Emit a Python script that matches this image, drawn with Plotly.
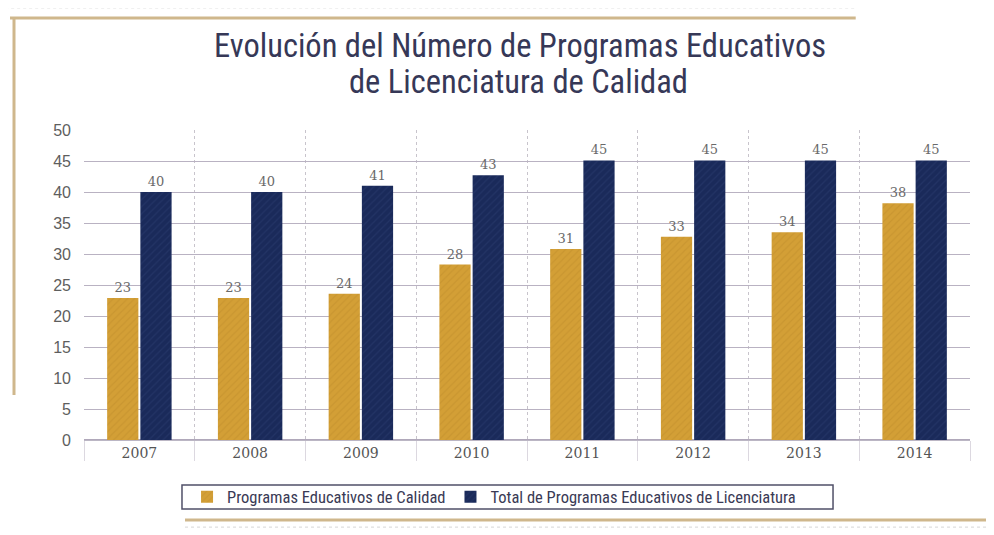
import plotly.graph_objects as go

years = ["2007", "2008", "2009", "2010", "2011", "2012", "2013", "2014"]
calidad = [22.9, 22.9, 23.6, 28.3, 30.8, 32.8, 33.5, 38.2]
calidad_labels = ["23", "23", "24", "28", "31", "33", "34", "38"]
total = [40, 40, 41, 42.7, 45.1, 45.1, 45.1, 45.1]
total_labels = ["40", "40", "41", "43", "45", "45", "45", "45"]

gold = "#d39f36"
navy = "#1a2a5a"
narrow = "Roboto Condensed, Liberation Sans Narrow, Lato"
label_font = dict(family="DejaVu Serif", size=13, color="#6a6a6a")

fig = go.Figure()
fig.add_trace(go.Bar(
    x=years, y=calidad, name="Programas Educativos de Calidad",
    text=calidad_labels, textposition="outside", textfont=label_font,
    cliponaxis=False,
    marker=dict(color=gold, line=dict(width=0),
                pattern=dict(shape="/", fgcolor="#c08e2c", size=5, solidity=0.25)),
))
fig.add_trace(go.Bar(
    x=years, y=total, name="Total de Programas Educativos de Licenciatura",
    text=total_labels, textposition="outside", textfont=label_font,
    cliponaxis=False,
    marker=dict(color=navy, line=dict(width=0),
                pattern=dict(shape="/", fgcolor="#2c3d70", size=5, solidity=0.25)),
))

frame = "#cfb78c"
shapes = [
    # outer dotted frame
    dict(type="line", xref="paper", yref="paper", x0=-0.089, x1=0.871, y0=1.394, y1=1.394,
         line=dict(color="#d6d6d6", width=1, dash="dot")),
    dict(type="line", xref="paper", yref="paper", x0=-0.089, x1=-0.089, y0=1.394, y1=0.13,
         line=dict(color="#d6d6d6", width=1, dash="dot")),
    # gold frame
    dict(type="line", xref="paper", yref="paper", x0=-0.0835, x1=0.871, y0=1.361, y1=1.361,
         line=dict(color=frame, width=3)),
    dict(type="line", xref="paper", yref="paper", x0=-0.079, x1=-0.079, y0=1.361, y1=0.145,
         line=dict(color=frame, width=3)),
    dict(type="line", xref="paper", yref="paper", x0=0.114, x1=1.03, y0=-0.258, y1=-0.258,
         line=dict(color=frame, width=3)),
    dict(type="line", xref="paper", yref="paper", x0=0.114, x1=1.03, y0=-0.281, y1=-0.281,
         line=dict(color="#d6d6d6", width=1, dash="dot")),
    # legend box
    dict(type="rect", xref="paper", yref="paper", x0=0.1106, x1=0.8454, y0=-0.145, y1=-0.2226,
         line=dict(color="#505068", width=1.5)),
]

title_font = dict(family=narrow, size=32.5, color="#363857")

fig.update_layout(
    width=994, height=535,
    paper_bgcolor="white", plot_bgcolor="white",
    margin=dict(l=76, r=32, t=122, b=103, autoexpand=False),
    barmode="group", bargap=0.4, bargroupgap=0.06,
    showlegend=True,
    legend=dict(
        orientation="h", x=0.1163, xanchor="left", y=-0.184, yanchor="middle",
        borderwidth=0, bgcolor="rgba(0,0,0,0)",
        font=dict(family=narrow, size=16.5, color="#3a3a55"),
        itemwidth=30, itemsizing="constant",
    ),
    shapes=shapes,
    annotations=[
        dict(text="Evolución del Número de Programas Educativos", xref="paper", yref="paper",
             x=0.492, y=1.270, xanchor="center", yanchor="middle", showarrow=False,
             height=36, valign="middle", font=title_font),
        dict(text="de Licenciatura de Calidad", xref="paper", yref="paper",
             x=0.490, y=1.154, xanchor="center", yanchor="middle", showarrow=False,
             height=36, valign="middle", font=title_font),
    ],
    font=dict(family="Liberation Sans", color="#666666"),
)
fig.update_xaxes(
    automargin=False,
    showgrid=True, gridcolor="#c8c4cc", griddash="dot", gridwidth=1,
    tickson="boundaries", ticks="outside", ticklen=20, tickcolor="#dcd8e0",
    tickfont=dict(family="DejaVu Serif", size=14, color="#555555"),
    showline=True, linecolor="#bbb6c4", linewidth=1,
)
fig.update_yaxes(
    automargin=False,
    range=[0, 50], dtick=5,
    showgrid=True, gridcolor="#b9b2c2", gridwidth=1,
    zeroline=True, zerolinecolor="#b0a8ba",
    tickfont=dict(family="Liberation Sans", size=16, color="#5e5e5e"),
    ticks="", ticklabelstandoff=12,
)

fig.write_html("out.html")
